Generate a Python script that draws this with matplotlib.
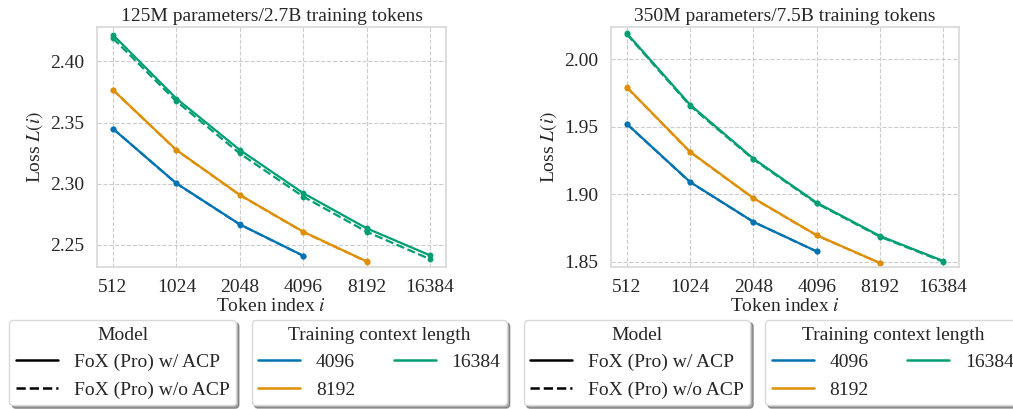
import matplotlib
matplotlib.use("Agg")
import matplotlib.pyplot as plt
import seaborn as sns
from matplotlib.lines import Line2D

sns.set_theme(style="whitegrid")
plt.rcParams['font.family'] = ['Liberation Serif', 'DejaVu Serif']
plt.rcParams['mathtext.fontset'] = 'stix'
plt.rcParams['grid.linestyle'] = '--'
plt.rcParams['axes.edgecolor'] = '#d9d9d9'

tokens = [512, 1024, 2048, 4096, 8192, 16384]
tick_labels = ["512", "1024", "2048", "4096", "8192", "16384"]
ctx_lengths = ["4096", "8192", "16384"]
colors = ["#0173b2", "#de8f05", "#029e73"]

# 125M model
small_acp = {
    "4096": [2.3449, 2.3003, 2.2668, 2.2412],
    "8192": [2.3767, 2.3276, 2.2909, 2.2608, 2.2366],
    "16384": [2.4216, 2.3696, 2.3276, 2.2923, 2.2636, 2.2415],
}
small_noacp = {
    "4096": [2.3450, 2.3002, 2.2667, 2.2411],
    "8192": [2.3765, 2.3274, 2.2907, 2.2606, 2.2364],
    "16384": [2.4188, 2.3673, 2.3247, 2.2895, 2.2608, 2.2384],
}
# 350M model
big_acp = {
    "4096": [1.9521, 1.9090, 1.8795, 1.8576],
    "8192": [1.9793, 1.9314, 1.8971, 1.8696, 1.8490],
    "16384": [2.0192, 1.9663, 1.9264, 1.8937, 1.8690, 1.8505],
}
big_noacp = {
    "4096": [1.9520, 1.9089, 1.8794, 1.8575],
    "8192": [1.9791, 1.9312, 1.8969, 1.8694, 1.8489],
    "16384": [2.0186, 1.9655, 1.9258, 1.8932, 1.8685, 1.8500],
}

titles = ["125M parameters/2.7B training tokens", "350M parameters/7.5B training tokens"]
yticks = [[2.25, 2.30, 2.35, 2.40], [1.85, 1.90, 1.95, 2.00]]
ylims = [(2.232, 2.428), (1.846, 2.024)]

fig = plt.figure(figsize=(10.13, 4.09), dpi=100)
ax1 = fig.add_axes([97/1013, 1-267/409, 349/1013, 240/409])
ax2 = fig.add_axes([611/1013, 1-267/409, 348/1013, 240/409])

FS = 14
LFS = 14
for ax, acp, noacp, title, yt, yl in zip([ax1, ax2], [small_acp, big_acp], [small_noacp, big_noacp], titles, yticks, ylims):
    for ctx, c in zip(ctx_lengths, colors):
        y1 = acp[ctx]
        y2 = noacp[ctx]
        ax.plot(tokens[:len(y1)], y1, '-', color=c, marker='o', markersize=3.2, linewidth=1.6)
        ax.plot(tokens[:len(y2)], y2, '--', color=c, marker='o', markersize=3.2, linewidth=1.6)
    ax.set_xscale('log', base=2)
    ax.set_xticks(tokens)
    ax.set_xticklabels(tick_labels)
    ax.minorticks_off()
    ax.set_xlim(430, 19500)
    ax.set_yticks(yt)
    ax.set_yticklabels([f"{v:.2f}" for v in yt])
    ax.set_ylim(*yl)
    ax.tick_params(labelsize=FS, pad=3)
    ax.set_title(title, fontsize=FS, pad=4)
    ax.set_xlabel(r"Token index $i$", fontsize=FS, labelpad=1)
    ax.set_ylabel(r"Loss $L(i)$", fontsize=FS, labelpad=4)
    ax.grid(True, linestyle='--', color='#cccccc', linewidth=0.8)
    for s in ax.spines.values():
        s.set_color('#d9d9d9')

    common = dict(loc='upper left', fontsize=LFS, title_fontsize=LFS, frameon=True, shadow=True,
                  fancybox=True, framealpha=1, edgecolor='#d9d9d9', borderaxespad=0,
                  handlelength=2.15, borderpad=0.35, labelspacing=0.5, handletextpad=0.8)
    model_handles = [Line2D([], [], color='black', linestyle='-', linewidth=1.8),
                     Line2D([], [], color='black', linestyle='--', linewidth=1.8)]
    leg1 = ax.legend(model_handles, ["FoX (Pro) w/ ACP", "FoX (Pro) w/o ACP"], title="Model",
                     bbox_to_anchor=(-0.251, -0.221), **common)
    ax.add_artist(leg1)
    ctx_handles = [Line2D([], [], color=c, linewidth=1.8) for c in colors]
    ax.legend(ctx_handles, ctx_lengths, title="Training context length", ncol=2,
              bbox_to_anchor=(0.443, -0.221), columnspacing=2.0, **common)

fig.savefig("out.png", dpi=100)
